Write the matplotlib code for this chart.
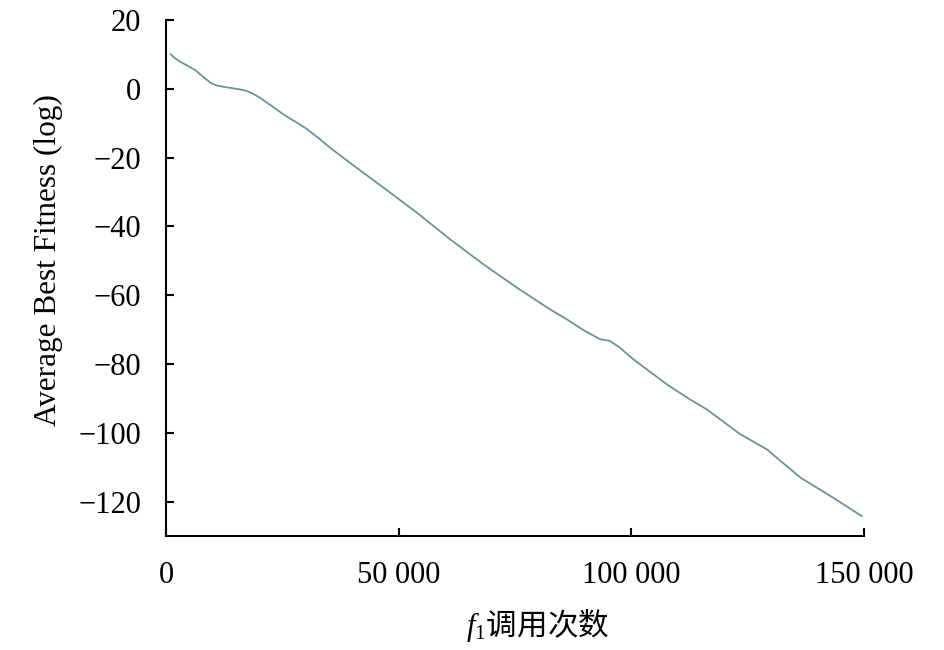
import matplotlib
matplotlib.use('Agg')
import matplotlib.pyplot as plt

plt.rcParams['font.family'] = ['Liberation Serif', 'Noto Sans CJK SC']
plt.rcParams['mathtext.fontset'] = 'custom'
plt.rcParams['mathtext.rm'] = 'Liberation Serif'
plt.rcParams['mathtext.it'] = 'Liberation Serif:italic'

# values
calls = [1000, 2000, 3000, 4500, 6200, 8000, 9500, 11000, 13700, 16000,
         17300, 18800, 20200, 25200, 30200, 33000, 35900, 39500, 46700, 53900,
         61000, 68200, 75400, 82500, 86100, 90000, 93300, 95400, 97500, 100400,
         107600, 112600, 116200, 123400, 129100, 136300, 143400, 149500]
fitness = [10.0, 8.8, 7.9, 6.8, 5.5, 3.5, 1.8, 0.9, 0.3, -0.2,
           -0.6, -1.5, -2.6, -7.4, -11.6, -14.6, -17.8, -21.5, -28.7, -36.0,
           -43.7, -51.0, -57.8, -64.1, -67.0, -70.4, -72.8, -73.3, -75.2, -78.6,
           -85.9, -90.3, -93.2, -100.4, -104.8, -113.0, -118.9, -124.2]

xticks = [0, 50000, 100000, 150000]
xtick_labels = ['0', '50 000', '100 000', '150 000']
yticks = [20, 0, -20, -40, -60, -80, -100, -120]

fig = plt.figure(figsize=(9.45, 6.5), dpi=100)
ax = fig.add_axes([0.1757, 0.1754, 0.7386, 0.7938])

ax.plot(calls, fitness, color='#6a929b', linewidth=1.3)

ax.set_xlim(0, 150000)
ax.set_ylim(-130, 20)
ax.set_xticks(xticks)
ax.set_xticklabels(xtick_labels)
ax.set_yticks(yticks)

for s in ['top', 'right']:
    ax.spines[s].set_visible(False)
for s in ['left', 'bottom']:
    ax.spines[s].set_linewidth(1.5)

ax.tick_params(direction='in', length=6, width=1.5, labelsize=22, pad=18)

ax.set_ylabel('Average Best Fitness (log)', fontsize=22.5)
ax.yaxis.set_label_coords(-0.1476, 0.535)
ax.set_xlabel(r'$f_1$调用次数', fontsize=22, family='Noto Sans CJK SC')
ax.xaxis.set_label_coords(0.532, -0.138)

fig.savefig('out.png', dpi=100)
